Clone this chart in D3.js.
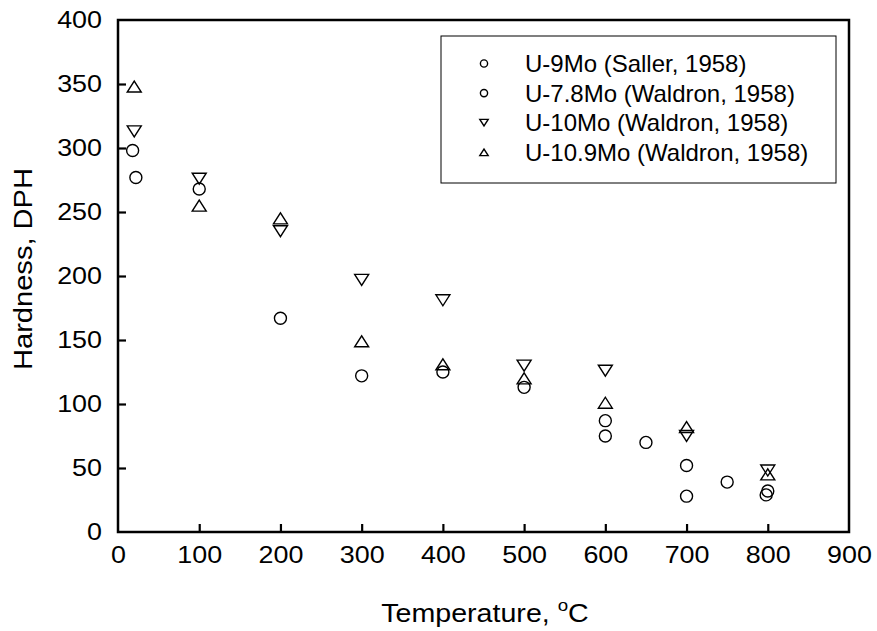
<!DOCTYPE html>
<html>
<head>
<meta charset="utf-8">
<script src="https://cdn.jsdelivr.net/npm/d3@7"></script>
<style>
  html, body { margin: 0; padding: 0; background: #fff; }
  svg { display: block; font-family: "Liberation Sans", Arial, sans-serif; }
</style>
</head>
<body>
<svg id="chart" width="877" height="631"></svg>
<script>
// Hardness of U-Mo alloys vs. temperature
const seriesNames = [
  "U-9Mo (Saller, 1958)",
  "U-7.8Mo (Waldron, 1958)",
  "U-10Mo (Waldron, 1958)",
  "U-10.9Mo (Waldron, 1958)"
];
const seriesShapes = ["circle", "circle", "down", "up"];

// U-9Mo (Saller, 1958)
const sallerTemp = [22, 600, 650, 700, 750, 800];
const sallerHard = [277, 87, 70, 52, 39, 32];

// U-7.8Mo (Waldron, 1958)
const u78Temp = [18, 100, 200, 300, 400, 500, 600, 700, 798];
const u78Hard = [298, 268, 167, 122, 125, 113, 75, 28, 29];

// U-10Mo (Waldron, 1958)
const u10Temp = [20, 100, 200, 300, 400, 500, 600, 700, 800];
const u10Hard = [313, 276, 235, 197, 181, 130, 126, 75, 48];

// U-10.9Mo (Waldron, 1958)
const u109Temp = [20, 100, 200, 300, 400, 500, 600, 700, 800];
const u109Hard = [348, 255, 245, 149, 131, 120, 101, 82, 45];

const xTicks = [0, 100, 200, 300, 400, 500, 600, 700, 800, 900];
const yTicks = [0, 50, 100, 150, 200, 250, 300, 350, 400];

const seriesTemps = [sallerTemp, u78Temp, u10Temp, u109Temp];
const seriesHards = [sallerHard, u78Hard, u10Hard, u109Hard];

const svg = d3.select("#chart");
const plot = { left: 118, right: 849, top: 20, bottom: 532 };
const labelStretch = 1.12;

const x = d3.scaleLinear().domain([0, 900]).range([plot.left, plot.right]);
const y = d3.scaleLinear().domain([0, 400]).range([plot.bottom, plot.top]);

// marker shapes, centred on the point
function shapePath(shape, s) {
  const w = 7 * s, h = 5.5 * s;
  if (shape === "up") return `M${-w},${h}L${w},${h}L0,${-h}Z`;
  if (shape === "down") return `M${-w},${-h}L${w},${-h}L0,${h}Z`;
  return null;
}

function drawMarker(g, shape, cx, cy, s) {
  if (shape === "circle") {
    g.append("circle").attr("cx", cx).attr("cy", cy).attr("r", 6 * s)
      .attr("fill", "none").attr("stroke", "#000").attr("stroke-width", 1.4);
  } else {
    g.append("path").attr("d", shapePath(shape, s))
      .attr("transform", `translate(${cx},${cy})`)
      .attr("fill", "none").attr("stroke", "#000").attr("stroke-width", 1.4)
      .attr("stroke-linejoin", "miter");
  }
}

// axes with inward ticks
const xAxis = d3.axisBottom(x).tickValues(xTicks).tickSize(-8).tickPadding(14).tickFormat(d3.format("d"));
const yAxis = d3.axisLeft(y).tickValues(yTicks).tickSize(-8).tickPadding(16).tickFormat(d3.format("d"));

const gx = svg.append("g").attr("transform", `translate(0,${plot.bottom})`).call(xAxis);
const gy = svg.append("g").attr("transform", `translate(${plot.left},0)`).call(yAxis);

[gx, gy].forEach(g => {
  g.select(".domain").remove();
  g.selectAll(".tick line").attr("stroke", "#000").attr("stroke-width", 2.2);
  g.selectAll(".tick text").attr("fill", "#000").attr("font-size", 24)
    .attr("font-family", "'Liberation Sans', Arial, sans-serif")
    .attr("transform", `scale(${labelStretch},1)`);
});
gy.selectAll(".tick text").attr("x", -16 / labelStretch);
gx.selectAll(".tick line").filter(d => d === 0 || d === 900).remove();
gy.selectAll(".tick line").filter(d => d === 0 || d === 400).remove();

// plot frame
svg.append("rect")
  .attr("x", plot.left).attr("y", plot.top)
  .attr("width", plot.right - plot.left).attr("height", plot.bottom - plot.top)
  .attr("fill", "none").attr("stroke", "#000").attr("stroke-width", 2.5);

// data markers
const marks = svg.append("g");
seriesTemps.forEach((temps, i) => {
  temps.forEach((t, j) => {
    drawMarker(marks, seriesShapes[i], x(t), y(seriesHards[i][j]), 1);
  });
});

// axis titles
svg.append("text")
  .attr("transform", `translate(32,269) rotate(-90)`)
  .attr("text-anchor", "middle").attr("font-size", 25).attr("fill", "#000")
  .attr("textLength", 202).attr("lengthAdjust", "spacingAndGlyphs")
  .text("Hardness, DPH");

const xt = svg.append("g").attr("transform", `translate(485,622) scale(1.1,1)`)
  .append("text")
  .attr("x", 0).attr("y", 0)
  .attr("text-anchor", "middle").attr("font-size", 26).attr("fill", "#000");
xt.append("tspan").text("Temperature, ");
xt.append("tspan").attr("font-size", 17).attr("dy", -11).text("o");
xt.append("tspan").attr("dy", 11).text("C");

// legend
const legend = svg.append("g");
legend.append("rect")
  .attr("x", 441).attr("y", 36).attr("width", 395).attr("height", 147)
  .attr("fill", "#fff").attr("stroke", "#000").attr("stroke-width", 1);
seriesNames.forEach((name, i) => {
  const cy = 63.5 + i * 29.6;
  drawMarker(legend, seriesShapes[i], 484, cy, 0.6);
  legend.append("text")
    .attr("x", 525).attr("y", cy).attr("dy", "0.36em")
    .attr("font-size", 24).attr("fill", "#000")
    .text(name);
});
</script>
</body>
</html>
